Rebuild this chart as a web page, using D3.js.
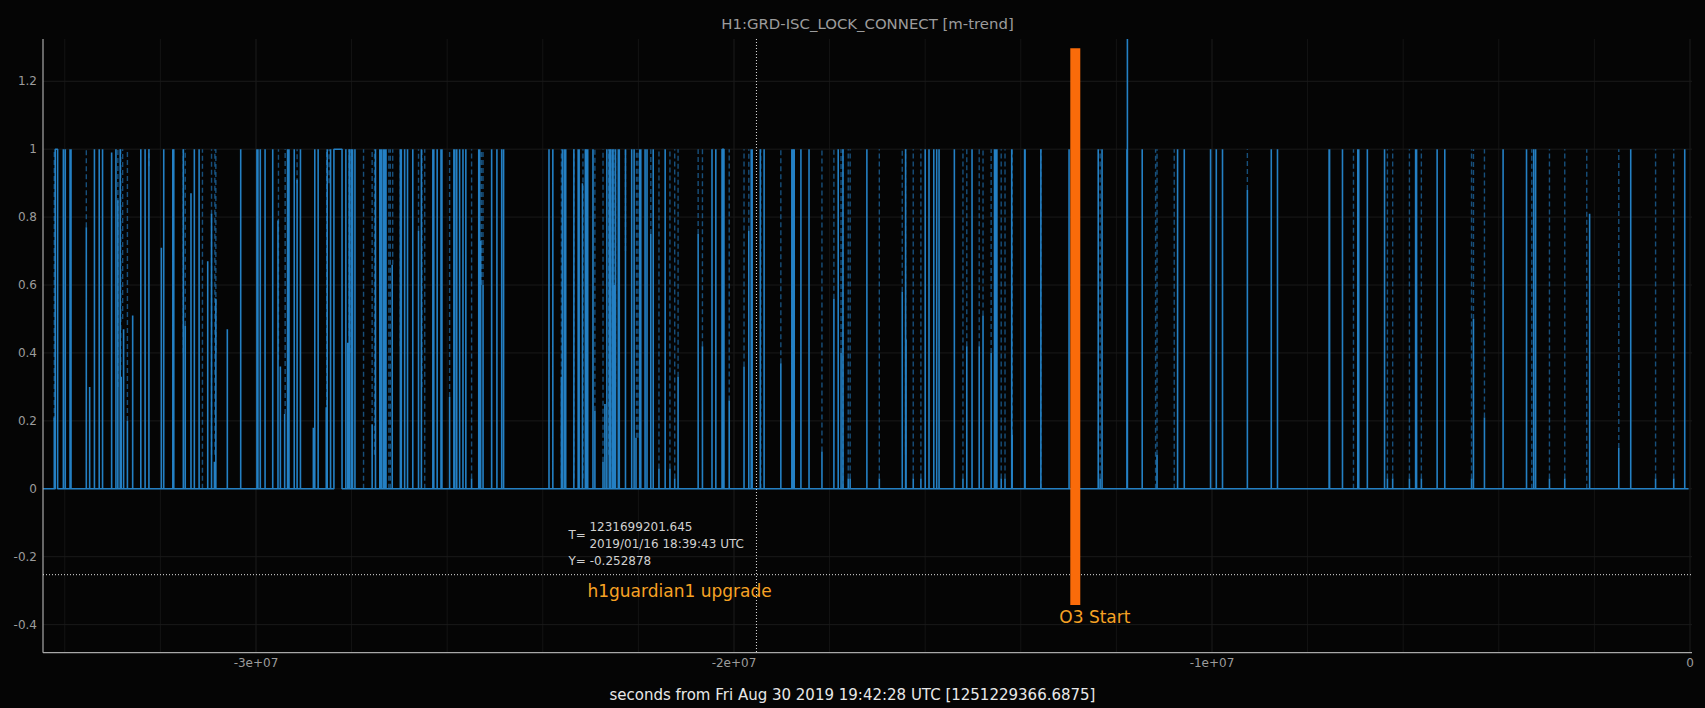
<!DOCTYPE html>
<html lang="en">
<head>
<meta charset="UTF-8">
<title>H1:GRD-ISC_LOCK_CONNECT [m-trend]</title>
<script src="https://d3js.org/d3.v7.min.js"></script>
<style>
body { margin: 0; background: #050505; }
svg { display: block; font-family: "DejaVu Sans", sans-serif; }
.grid line { stroke-width: 1; }
.ticklab { fill: #9c9c9c; font-size: 12px; }
.cursor { fill: #d0d0d0; font-size: 12px; }
.note { fill: #f6a224; font-size: 17px; }
</style>
</head>
<body>
<script>
// chart text
const chartTitle = "H1:GRD-ISC_LOCK_CONNECT [m-trend]";
const xLabel = "seconds from Fri Aug 30 2019 19:42:28 UTC [1251229366.6875]";
const refGps = 1251229366.6875;

// axes
const xDomain = [-34.456e6, 0.042e6];
const yDomain = [-0.4826, 1.3245];
const xTicks = [-3e7, -2e7, -1e7, 0];
const xTickLabels = ["-3e+07", "-2e+07", "-1e+07", "0"];
const xMinorStep = 2e6;
const yTicks = [-0.4, -0.2, 0, 0.2, 0.4, 0.6, 0.8, 1, 1.2];
const yTickLabels = ["-0.4", "-0.2", "0", "0.2", "0.4", "0.6", "0.8", "1", "1.2"];

// data span (Ms from reference time)
const dataStart = -34.46, dataEnd = -0.03;

// solid trace: [time in Ms, peak value]
const solidSpikes = [
  [-34.22,0.21],[-34.15,1],[-34.03,1],[-33.99,1],[-33.89,1],[-33.87,1],[-33.55,0.77],[-33.48,0.3],[-33.38,1],[-33.28,1],
  [-33.21,1],[-33.02,0.99],[-32.93,1],[-32.89,0.85],[-32.84,1],[-32.82,0.33],[-32.77,0.47],[-32.69,0.2],[-32.58,0.51],[-32.41,1],
  [-32.32,1],[-32.24,1],[-31.98,0.71],[-31.93,1],[-31.74,1],[-31.72,1],[-31.52,1],[-31.48,0.48],[-31.36,0.87],[-31.29,1],
  [-31.19,1],[-31.01,0.67],[-30.93,0.81],[-30.87,0.08],[-30.84,0.56],[-30.60,0.47],[-30.32,1],[-29.98,1],[-29.96,1],[-29.91,1],
  [-29.81,1],[-29.65,1],[-29.54,0.79],[-29.49,0.36],[-29.40,0.22],[-29.34,1],[-29.31,1],[-29.20,1],[-29.14,0.91],[-29.07,1],
  [-28.80,0.18],[-28.77,1],[-28.70,1],[-28.53,0.24],[-28.51,1],[-28.44,1],[-28.37,1],[-28.20,1],[-28.12,1],[-28.08,0.43],
  [-28.05,1],[-28.01,1],[-27.98,1],[-27.93,1],[-27.57,0.19],[-27.50,1],
  [-27.41,1],[-27.38,1],[-27.34,1],[-27.31,1],[-27.28,1],[-27.15,0.66],[-26.98,1],[-26.96,1],[-26.89,1],[-26.83,1],
  [-26.72,1],[-26.60,0.76],[-26.54,1],[-26.30,1],[-26.28,1],[-26.21,1],[-26.13,1],[-26.11,1],[-25.95,0.27],[-25.86,1],
  [-25.84,1],[-25.80,1],[-25.74,1],[-25.67,1],[-25.61,1],[-25.49,0.03],[-25.34,1],[-25.32,1],[-25.30,0.73],[-25.25,0.6],
  [-25.07,1],[-24.96,1],[-24.86,1],[-24.82,1],[-23.87,1],[-23.79,1],[-23.61,0.33],[-23.59,1],[-23.55,1],[-23.52,1],
  [-23.35,1],[-23.26,1],[-23.24,1],[-23.17,0.9],[-23.11,1],[-23.08,1],[-23.06,1],[-22.95,1],[-22.91,0.23],[-22.74,0.08],
  [-22.70,0.25],[-22.66,1],[-22.61,1],[-22.59,1],[-22.55,1],[-22.53,1],[-22.50,0.6],[-22.48,1],[-22.42,1],[-22.40,1],
  [-22.27,1],[-22.14,1],[-22.09,1],[-22.05,0.15],[-21.97,1],[-21.95,1],[-21.86,1],[-21.82,1],[-21.74,0.75],[-21.69,1],
  [-21.57,0.06],[-21.44,1],[-21.34,0.06],[-21.24,0.03],[-21.17,0.33],[-20.75,0.75],[-20.66,0.42],
  [-20.46,1],[-20.38,1],[-20.25,1],[-20.23,1],[-20.21,1],[-20.10,0.26],[-19.79,0.36],[-19.69,0.76],[-19.64,1],[-19.62,1],
  [-19.45,1],[-19.37,1],[-19.02,0.37],[-18.79,1],[-18.76,1],[-18.74,1],[-18.60,1],[-18.43,1],[-18.16,0.11],[-17.91,0.56],
  [-17.82,1],[-17.76,0.4],[-17.72,1],[-17.61,0.03],[-17.57,0.03],[-17.22,1],[-16.96,0.03],[-16.48,0.58],[-16.41,1],[-16.40,0.44],
  [-16.25,0.03],[-16.09,0.03],[-16.00,1],[-15.92,1],[-15.82,1],[-15.76,1],[-15.71,1],[-15.39,1],[-15.21,0.03],[-15.13,0.42],
  [-15.02,1],[-14.87,0.42],[-14.79,0.51],[-14.62,0.4],[-14.55,1],[-14.52,1],[-14.50,1],[-14.41,0.03],[-14.33,0.03],[-14.19,1],
  [-14.18,0.16],[-13.92,1],[-13.91,1],
  [-13.58,1],[-12.99,1],[-12.38,1],[-12.34,0.03],[-12.30,1],[-11.78,1],[-11.77,1.4],[-11.46,1],[-11.15,0.1],[-10.72,1],
  [-10.58,1],[-10.03,1],[-9.91,1],[-9.78,1],[-9.26,0.88],[-8.76,1],[-8.63,1],[-7.55,1],[-7.54,1],[-7.27,1],
  [-6.95,1],[-6.93,1],[-6.75,1],
  [-6.39,1],[-6.33,0.03],[-6.22,0.03],[-5.87,0.03],[-5.74,1],[-5.72,1],[-5.62,0.03],[-5.29,1],[-5.13,1],[-4.57,0.03],
  [-4.53,0.5],[-4.30,0.21],[-3.91,1],[-3.42,1],[-3.27,1],[-3.23,1],[-2.94,0.03],[-2.62,0.03],[-2.10,0.81],[-1.49,0.12],
  [-1.24,1],[-0.72,0.03],[-0.34,0.03],[-0.11,1]
];

// stretches where the solid trace stays at 1: [start Ms, end Ms]
const lockHolds = [[-34.20, -34.15], [-28.37, -28.20], [-20.25, -20.21]];

// dashed trace: [time in Ms, lower value] (runs up to 1)
const dashedSpikes = [
  [-34.22,0.2],[-33.55,0.77],[-32.89,0.3],[-32.83,0.35],[-32.79,0.5],[-32.69,0.2],[-32.24,0.95],[-31.73,0.5],[-31.52,0.4],[-31.48,0.48],
  [-31.12,0],[-30.93,0.1],[-30.86,0.1],[-30.84,0.4],[-29.53,0.38],[-29.39,0.22],[-29.14,0.9],[-28.52,0.2],[-28.47,0.9],[-28.05,0.45],
  [-28.01,0.4],[-27.75,0],[-27.57,0.2],[-27.52,0.1],[-27.22,0],[-27.19,0],[-27.14,0.66],[-26.98,0.42],[-26.60,0.76],[-26.53,0.3],
  [-26.47,0],[-25.95,0.27],[-25.49,0.03],[-25.32,0.6],[-25.28,0.6],[-25.25,0.6],[-23.61,0.03],[-23.35,0.03],[-23.16,0.03],[-23.10,0.03],
  [-22.91,0.23],[-22.74,0.08],[-22.62,0.1],[-22.58,0.05],[-22.51,0.05],[-22.48,0.3],[-22.27,0.7],[-22.04,0.15],[-22.01,0.15],[-21.74,0.75],
  [-21.57,0.06],[-21.34,0.06],[-21.24,0.03],[-21.17,0.33],[-20.75,0.75],[-20.66,0.42],[-20.10,0.26],[-19.79,0.36],[-19.69,0.76],[-19.44,0],
  [-19.02,0.37],[-18.76,0.03],[-18.16,0.11],[-17.91,0.56],[-17.76,0.4],[-17.72,0],[-17.61,0.03],[-17.57,0.03],[-16.96,0.03],[-16.48,0.58],
  [-16.41,0.1],[-16.25,0.03],[-16.09,0.03],[-15.21,0.03],[-15.13,0.42],[-14.87,0.42],[-14.79,0.51],[-14.62,0.4],[-14.41,0.03],[-14.33,0.03],
  [-14.18,0.16],[-13.58,0],[-12.34,0.03],[-11.18,0],[-11.15,0.1],[-10.79,0],[-9.26,0.88],[-7.04,0],[-6.33,0.03],[-6.22,0.03],
  [-5.87,0.03],[-5.62,0.03],[-4.57,0.03],[-4.53,0.5],[-4.30,0.21],[-3.31,0],[-2.94,0.03],[-2.62,0.03],[-2.16,0],[-1.49,0.12],
  [-0.72,0.03],[-0.34,0.03]
];

// cursor readout
const cursorGps = 1231699201.645;
const cursorY = -0.252878;
const cursorDate = "2019/01/16 18:39:43 UTC";

// annotations
const upgradeLabel = "h1guardian1 upgrade";
const o3Label = "O3 Start";
const o3Time = -12.86e6;
const o3Range = [-0.342, 1.297];

const width = 1705, height = 708;
const margin = {top: 39, right: 13, bottom: 55.3, left: 43};

const svg = d3.select("body").append("svg")
    .attr("width", width)
    .attr("height", height);

svg.append("rect").attr("width", width).attr("height", height).attr("fill", "#050505");

const x = d3.scaleLinear().domain(xDomain).range([margin.left, width - margin.right]);
const y = d3.scaleLinear().domain(yDomain).range([height - margin.bottom, margin.top]);

svg.append("clipPath").attr("id", "plotclip")
  .append("rect")
    .attr("x", margin.left).attr("y", margin.top)
    .attr("width", width - margin.left - margin.right)
    .attr("height", height - margin.top - margin.bottom);

// grid
const grid = svg.append("g").attr("class", "grid");
grid.selectAll(".vg")
  .data(d3.range(-34e6, 1, xMinorStep))
  .join("line")
    .attr("x1", d => x(d)).attr("x2", d => x(d))
    .attr("y1", margin.top).attr("y2", height - margin.bottom)
    .attr("stroke", d => (d % 1e7 === 0) ? "#1d1d1d" : "#141414");
grid.selectAll(".hg")
  .data(yTicks)
  .join("line")
    .attr("x1", margin.left).attr("x2", width - margin.right)
    .attr("y1", d => y(d)).attr("y2", d => y(d))
    .attr("stroke", "#1a1a1a");

const plot = svg.append("g").attr("clip-path", "url(#plotclip)");

// dashed trace
plot.append("g").selectAll("line")
  .data(dashedSpikes)
  .join("line")
    .attr("x1", d => x(d[0] * 1e6)).attr("x2", d => x(d[0] * 1e6))
    .attr("y1", d => y(d[1])).attr("y2", y(1))
    .attr("stroke", "#1f6fae")
    .attr("stroke-opacity", 0.7)
    .attr("stroke-width", 1.4)
    .attr("stroke-dasharray", "5,3");

// solid trace as one path
let events = [];
solidSpikes.forEach(d => events.push({t: d[0], pts: [[d[0], 0], [d[0], d[1]], [d[0], 0]]}));
lockHolds.forEach(d => events.push({t: d[0], pts: [[d[0], 0], [d[0], 1], [d[1], 1], [d[1], 0]]}));
events.sort((a, b) => a.t - b.t);
let pts = [[dataStart, 0]];
events.forEach(e => { pts = pts.concat(e.pts); });
pts.push([dataEnd, 0]);

const line = d3.line()
    .x(d => x(d[0] * 1e6))
    .y(d => y(d[1]));

plot.append("path")
    .attr("d", line(pts))
    .attr("fill", "none")
    .attr("stroke", "#2480c4")
    .attr("stroke-width", 1.6)
    .attr("stroke-linejoin", "bevel");

// spines
svg.append("line")
    .attr("x1", margin.left).attr("x2", margin.left)
    .attr("y1", margin.top).attr("y2", height - margin.bottom)
    .attr("stroke", "#a8a8a8").attr("stroke-width", 1.2);
svg.append("line")
    .attr("x1", margin.left).attr("x2", width - margin.right)
    .attr("y1", height - margin.bottom).attr("y2", height - margin.bottom)
    .attr("stroke", "#a8a8a8").attr("stroke-width", 1.2);

// tick labels
svg.append("g").selectAll("text")
  .data(yTicks)
  .join("text")
    .attr("class", "ticklab")
    .attr("x", margin.left - 6)
    .attr("y", d => y(d))
    .attr("dy", "0.35em")
    .attr("text-anchor", "end")
    .text((d, i) => yTickLabels[i]);
svg.append("g").selectAll("text")
  .data(xTicks)
  .join("text")
    .attr("class", "ticklab")
    .attr("x", d => x(d))
    .attr("y", height - margin.bottom + 14)
    .attr("text-anchor", "middle")
    .text((d, i) => xTickLabels[i]);

// title and axis label
svg.append("text")
    .attr("x", (margin.left + width - margin.right) / 2)
    .attr("y", 29)
    .attr("text-anchor", "middle")
    .attr("fill", "#9c9c9c")
    .attr("font-size", 14.9)
    .text(chartTitle);
svg.append("text")
    .attr("x", width / 2)
    .attr("y", 700)
    .attr("text-anchor", "middle")
    .attr("fill", "#e8e8e8")
    .attr("font-size", 15)
    .text(xLabel);

// cursor crosshair
const cx = x(cursorGps - refGps);
const cy = y(cursorY);
svg.append("line")
    .attr("x1", cx).attr("x2", cx)
    .attr("y1", margin.top).attr("y2", height - margin.bottom)
    .attr("stroke", "#e0e0e0").attr("stroke-width", 1).attr("stroke-dasharray", "1,2");
svg.append("line")
    .attr("x1", margin.left).attr("x2", width - margin.right)
    .attr("y1", cy).attr("y2", cy)
    .attr("stroke", "#e0e0e0").attr("stroke-width", 1).attr("stroke-dasharray", "1,2");

const cur = svg.append("g").attr("class", "cursor");
cur.append("text").attr("x", cx - 188).attr("y", cy - 36).text("T=");
cur.append("text").attr("x", cx - 167).attr("y", cy - 44).text(cursorGps.toFixed(3));
cur.append("text").attr("x", cx - 167).attr("y", cy - 27).text(cursorDate);
cur.append("text").attr("x", cx - 188).attr("y", cy - 9.5).text("Y= " + cursorY);

svg.append("text")
    .attr("class", "note")
    .attr("x", cx - 169)
    .attr("y", cy + 22.5)
    .text(upgradeLabel);

// O3 start marker
const ox = x(o3Time);
svg.append("line")
    .attr("x1", ox).attr("x2", ox)
    .attr("y1", y(o3Range[0])).attr("y2", y(o3Range[1]))
    .attr("stroke", "#fa6b0a")
    .attr("stroke-width", 10);
svg.append("text")
    .attr("class", "note")
    .attr("x", ox - 16)
    .attr("y", y(o3Range[0]) + 18)
    .text(o3Label);
</script>
</body>
</html>
